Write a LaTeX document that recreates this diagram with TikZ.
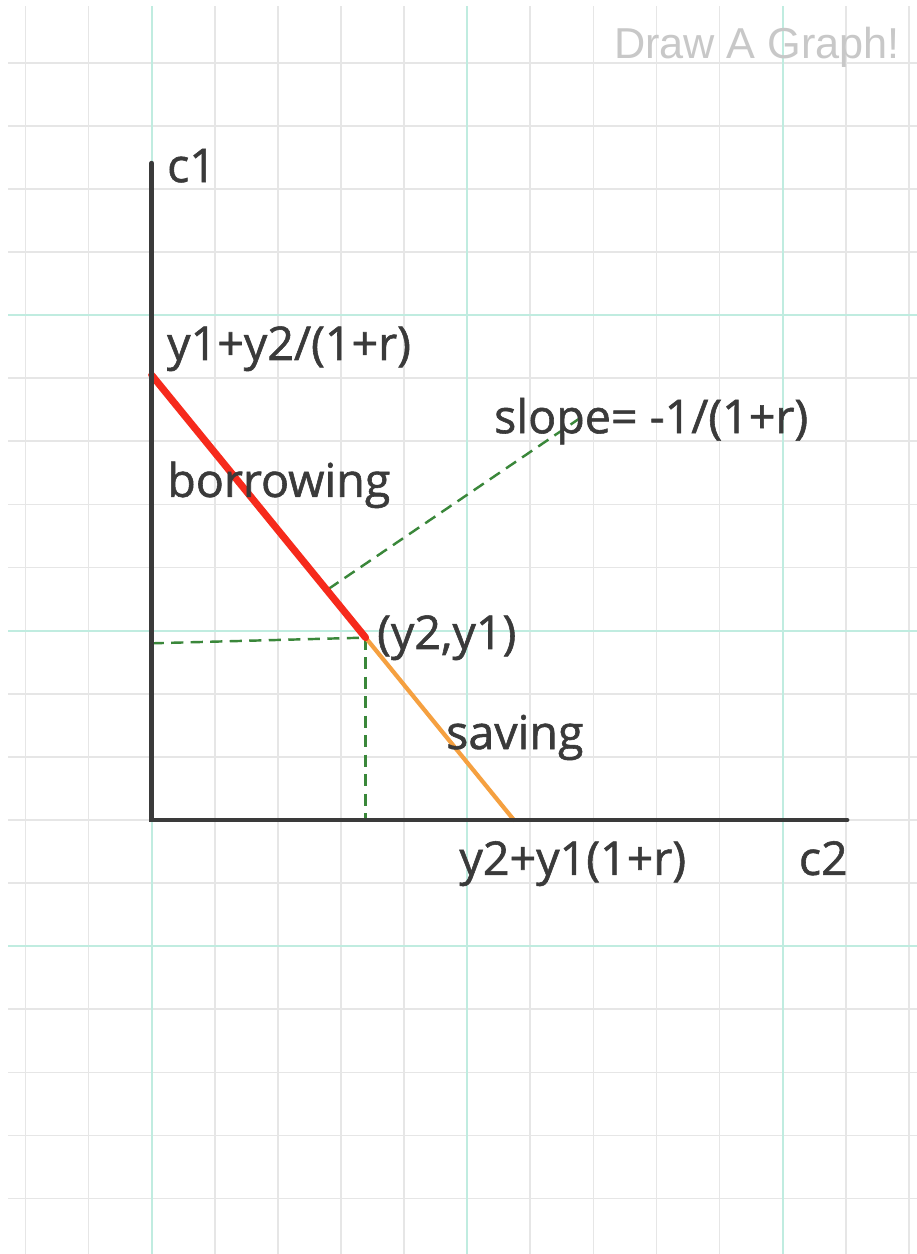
\documentclass[tikz,border=0pt]{standalone}
\usepackage{fontspec}
\newfontfamily\handfont[FakeBold=1.2]{Open Sans}
\newfontfamily\logofont{Liberation Sans}
\definecolor{gridgray}{RGB}{230,230,230}
\definecolor{gridteal}{RGB}{192,236,224}
\definecolor{inkgray}{RGB}{58,58,58}
\definecolor{budgetred}{RGB}{246,42,28}
\definecolor{budgetorange}{RGB}{245,160,64}
\definecolor{guidegreen}{RGB}{58,135,58}
\definecolor{logogray}{RGB}{200,200,200}
\begin{document}
\begin{tikzpicture}[
                    axisline/.style={line width=2.1pt, inkgray, line cap=round},
                    guideline/.style={guidegreen, line width=1.1pt, dash pattern=on 5.5pt off 3.3pt},
                    gridline/.style={gridgray, line width=0.8pt},
                    handlabel/.style={inkgray, font=\handfont\fontsize{21}{25}\selectfont, inner sep=0pt, anchor=base west}
                ]
                    % Paper
                    \fill[white] (-2.404,-6.878) rectangle (12.128,12.995);
                    \useasboundingbox (-2.404,-6.878) rectangle (12.128,12.995);
                    % Grid
                    \foreach \x in {-2,...,12} \draw[gridline] (\x,-6.878) -- (\x,12.9);
                    \foreach \y in {-6,...,12} \draw[gridline] (-2.277,\y) -- (12.128,\y);
                    \foreach \x in {0,5,10} \draw[gridline, gridteal] (\x,-6.878) -- (\x,12.9);
                    \foreach \y in {-2,3,8} \draw[gridline, gridteal] (-2.277,\y) -- (12.128,\y);
                    % Points
                    \coordinate (O) at (0,0);
                    \coordinate (c1top) at (0,10.41);
                    \coordinate (c2end) at (11.02,0);
                    \coordinate (A) at (0,7.05);
                    \coordinate (B) at (5.74,0);
                    \coordinate (E) at (3.39,2.89);
                    \coordinate (Ey) at (0,2.80);
                    \coordinate (slopefoot) at (2.80,3.66);
                    \coordinate (slopetip) at (6.79,6.37);
                    % Guides
                    \draw[guideline] (Ey) -- (E);
                    \draw[guideline] (E) -- (E |- O);
                    \draw[guideline] (slopefoot) -- (slopetip);
                    % Budget line
                    \draw[budgetorange, line width=1.9pt, line cap=round] (E) -- (B);
                    \draw[budgetred, line width=3.2pt, line cap=round] (A) -- (E);
                    % Axes
                    \draw[axisline] (c1top) -- (O) -- (c2end);
                    % Labels
                    \node[handlabel] (c1label) at (0.238,10.11) {c1};
                    \node[handlabel] (Alabel) at (0.238,7.29) {y1+y2/(1+r)};
                    \node[handlabel] (slopelabel) at (5.42,6.13) {slope= -1/(1+r)};
                    \node[handlabel] (borrowlabel) at (0.24,5.12) {borrowing};
                    \node[handlabel] (Elabel) at (3.566,2.71) {(y2,y1)};
                    \node[handlabel] (savelabel) at (4.66,1.125) {saving};
                    \node[handlabel] (Blabel) at (4.87,-0.87) {y2+y1(1+r)};
                    \node[handlabel] (c2label) at (10.25,-0.87) {c2};
                    \node[logogray, font=\logofont\fontsize{19.5}{23}\selectfont, inner sep=0pt, anchor=base west] (logo) at (7.32,12.07) {Draw A Graph!};
                \end{tikzpicture}
\end{document}
